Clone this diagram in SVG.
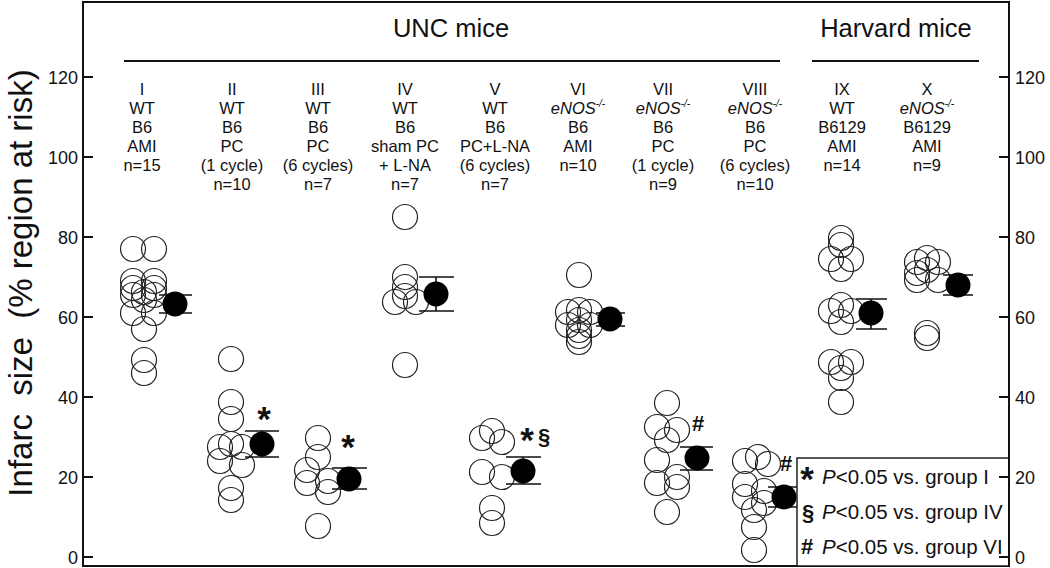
<svg xmlns="http://www.w3.org/2000/svg" width="1050" height="568" viewBox="0 0 1050 568">
<style>
text{font-family:"Liberation Sans",Arial,sans-serif;fill:#111}
.lbl{font-size:16.5px;text-anchor:middle}
.tk{font-size:18px}
.hd{font-size:25.5px;text-anchor:middle}
.ax{stroke:#111;stroke-width:2;fill:none}
.o{fill:none;stroke:#222;stroke-width:1.2}
.m{fill:#000}
.eb{stroke:#111;stroke-width:1.6;fill:none}
.ast{font-size:35px;font-weight:bold;text-anchor:middle}
.sym{font-size:22px;font-weight:bold;text-anchor:middle}
.lg{font-size:20.5px}
</style>
<rect width="1050" height="568" fill="#fff"/>
<g id="axes">
<rect class="ax" x="83" y="2" width="926" height="564"/>
<path class="ax" d="M83 77h10M83 157h10M83 237h10M83 317h10M83 397h10M83 477h10M83 557h10"/>
<g class="tk" text-anchor="end">
<text x="78" y="83.5">120</text><text x="78" y="163.5">100</text><text x="78" y="243.5">80</text><text x="78" y="323.5">60</text><text x="78" y="403.5">40</text><text x="78" y="483.5">20</text><text x="78" y="563.5">0</text>
</g>
<text transform="translate(32 283) rotate(-90)" font-size="33" text-anchor="middle" xml:space="preserve">Infarc  size  (% region at risk)</text>
</g>
<g id="headers">
<text class="hd" x="451" y="37">UNC mice</text>
<text class="hd" x="896" y="37">Harvard mice</text>
<path class="ax" stroke-width="1.8" d="M124 61H780M812 61H979"/>
</g>
<g id="labels">
<text class="lbl" x="142"><tspan x="142" y="95">I</tspan><tspan x="142" y="114">WT</tspan><tspan x="142" y="133">B6</tspan><tspan x="142" y="152">AMI</tspan><tspan x="142" y="171">n=15</tspan></text>
<text class="lbl" x="232"><tspan x="232" y="95">II</tspan><tspan x="232" y="114">WT</tspan><tspan x="232" y="133">B6</tspan><tspan x="232" y="152">PC</tspan><tspan x="232" y="171">(1 cycle)</tspan><tspan x="232" y="190">n=10</tspan></text>
<text class="lbl" x="318"><tspan x="318" y="95">III</tspan><tspan x="318" y="114">WT</tspan><tspan x="318" y="133">B6</tspan><tspan x="318" y="152">PC</tspan><tspan x="318" y="171">(6 cycles)</tspan><tspan x="318" y="190">n=7</tspan></text>
<text class="lbl" x="405"><tspan x="405" y="95">IV</tspan><tspan x="405" y="114">WT</tspan><tspan x="405" y="133">B6</tspan><tspan x="405" y="152">sham PC</tspan><tspan x="405" y="171">+ L-NA</tspan><tspan x="405" y="190">n=7</tspan></text>
<text class="lbl" x="495"><tspan x="495" y="95">V</tspan><tspan x="495" y="114">WT</tspan><tspan x="495" y="133">B6</tspan><tspan x="495" y="152">PC+L-NA</tspan><tspan x="495" y="171">(6 cycles)</tspan><tspan x="495" y="190">n=7</tspan></text>
<text class="lbl" x="578" y="95">VI</text>
<text class="lbl" x="578" y="114"><tspan font-style="italic">eNOS</tspan><tspan font-style="italic" font-size="10" dy="-7">-/-</tspan></text>
<text class="lbl" x="578"><tspan x="578" y="133">B6</tspan><tspan x="578" y="152">AMI</tspan><tspan x="578" y="171">n=10</tspan></text>
<text class="lbl" x="663" y="95">VII</text>
<text class="lbl" x="663" y="114"><tspan font-style="italic">eNOS</tspan><tspan font-style="italic" font-size="10" dy="-7">-/-</tspan></text>
<text class="lbl" x="663"><tspan x="663" y="133">B6</tspan><tspan x="663" y="152">PC</tspan><tspan x="663" y="171">(1 cycle)</tspan><tspan x="663" y="190">n=9</tspan></text>
<text class="lbl" x="755" y="95">VIII</text>
<text class="lbl" x="755" y="114"><tspan font-style="italic">eNOS</tspan><tspan font-style="italic" font-size="10" dy="-7">-/-</tspan></text>
<text class="lbl" x="755"><tspan x="755" y="133">B6</tspan><tspan x="755" y="152">PC</tspan><tspan x="755" y="171">(6 cycles)</tspan><tspan x="755" y="190">n=10</tspan></text>
<text class="lbl" x="842"><tspan x="842" y="95">IX</tspan><tspan x="842" y="114">WT</tspan><tspan x="842" y="133">B6129</tspan><tspan x="842" y="152">AMI</tspan><tspan x="842" y="171">n=14</tspan></text>
<text class="lbl" x="927" y="95">X</text>
<text class="lbl" x="927" y="114"><tspan font-style="italic">eNOS</tspan><tspan font-style="italic" font-size="10" dy="-7">-/-</tspan></text>
<text class="lbl" x="927"><tspan x="927" y="133">B6129</tspan><tspan x="927" y="152">AMI</tspan><tspan x="927" y="171">n=9</tspan></text>
</g>
<g id="group-I">
<circle class="o" cx="133" cy="249" r="12.5"/><circle class="o" cx="154" cy="249" r="12.5"/>
<circle class="o" cx="133" cy="281" r="12.5"/><circle class="o" cx="154" cy="281" r="12.5"/>
<circle class="o" cx="133" cy="288" r="12.5"/><circle class="o" cx="154" cy="288" r="12.5"/>
<circle class="o" cx="144" cy="292" r="12.5"/>
<circle class="o" cx="133" cy="295" r="12.5"/><circle class="o" cx="154" cy="295" r="12.5"/>
<circle class="o" cx="144" cy="300" r="12.5"/>
<circle class="o" cx="133" cy="313" r="12.5"/><circle class="o" cx="154" cy="313" r="12.5"/>
<circle class="o" cx="144" cy="329" r="12.5"/><circle class="o" cx="144" cy="360" r="12.5"/><circle class="o" cx="144" cy="373" r="12.5"/>
<path class="eb" d="M159 295H192M159 313H192M175 295V313"/>
<circle class="m" cx="175" cy="304" r="12.5"/>
</g>
<g id="group-II">
<circle class="o" cx="231" cy="359" r="12.5"/><circle class="o" cx="231" cy="402" r="12.5"/><circle class="o" cx="231" cy="419" r="12.5"/>
<circle class="o" cx="231" cy="444" r="12.5"/><circle class="o" cx="220" cy="447" r="12.5"/><circle class="o" cx="242" cy="447" r="12.5"/>
<circle class="o" cx="220" cy="461" r="12.5"/><circle class="o" cx="242" cy="465" r="12.5"/>
<circle class="o" cx="231" cy="488" r="12.5"/><circle class="o" cx="231" cy="500" r="12.5"/>
<path class="eb" d="M245 431H279M245 457H279M262 431V457"/>
<circle class="m" cx="262" cy="444" r="12.5"/>
<text class="ast" x="264" y="431">*</text>
</g>
<g id="group-III">
<circle class="o" cx="318" cy="438" r="12.5"/><circle class="o" cx="318" cy="457" r="12.5"/>
<circle class="o" cx="307" cy="470" r="12.5"/><circle class="o" cx="307" cy="483" r="12.5"/>
<circle class="o" cx="328" cy="481" r="12.5"/><circle class="o" cx="328" cy="492" r="12.5"/>
<circle class="o" cx="318" cy="526" r="12.5"/>
<path class="eb" d="M332 468H367M332 489H367M349 468V489"/>
<circle class="m" cx="349" cy="479" r="12.5"/>
<text class="ast" x="348" y="459">*</text>
</g>
<g id="group-IV">
<circle class="o" cx="405" cy="217" r="12.5"/><circle class="o" cx="405" cy="277" r="12.5"/><circle class="o" cx="405" cy="287" r="12.5"/>
<circle class="o" cx="405" cy="296" r="12.5"/><circle class="o" cx="395" cy="302" r="12.5"/><circle class="o" cx="416" cy="302" r="12.5"/>
<circle class="o" cx="405" cy="365" r="12.5"/>
<path class="eb" d="M419 277H454M419 311H454M436 277V311"/>
<circle class="m" cx="436" cy="294" r="12.5"/>
</g>
<g id="group-V">
<circle class="o" cx="482" cy="438" r="12.5"/><circle class="o" cx="492" cy="431" r="12.5"/><circle class="o" cx="502" cy="442" r="12.5"/>
<circle class="o" cx="482" cy="472" r="12.5"/><circle class="o" cx="502" cy="477" r="12.5"/>
<circle class="o" cx="492" cy="508" r="12.5"/><circle class="o" cx="492" cy="523" r="12.5"/>
<path class="eb" d="M506 457H541M506 484H541M523 457V484"/>
<circle class="m" cx="523" cy="471" r="12.5"/>
<text class="ast" x="527" y="452">*</text>
<text class="sym" x="544" y="444" font-size="25">§</text>
</g>
<g id="group-VI">
<circle class="o" cx="579" cy="275" r="12.5"/>
<circle class="o" cx="568" cy="312" r="12.5"/><circle class="o" cx="579" cy="310" r="12.5"/><circle class="o" cx="590" cy="312" r="12.5"/>
<circle class="o" cx="568" cy="325" r="12.5"/><circle class="o" cx="579" cy="320" r="12.5"/><circle class="o" cx="590" cy="325" r="12.5"/>
<circle class="o" cx="579" cy="330" r="12.5"/><circle class="o" cx="579" cy="336" r="12.5"/><circle class="o" cx="579" cy="342" r="12.5"/>
<path class="eb" d="M596 313H625M596 326H625M610 313V326"/>
<circle class="m" cx="610" cy="319" r="12.5"/>
</g>
<g id="group-VII">
<circle class="o" cx="667" cy="403" r="12.5"/><circle class="o" cx="657" cy="427" r="12.5"/><circle class="o" cx="677" cy="430" r="12.5"/>
<circle class="o" cx="667" cy="440" r="12.5"/><circle class="o" cx="657" cy="460" r="12.5"/><circle class="o" cx="677" cy="477" r="12.5"/>
<circle class="o" cx="657" cy="483" r="12.5"/><circle class="o" cx="677" cy="487" r="12.5"/><circle class="o" cx="667" cy="512" r="12.5"/>
<path class="eb" d="M680 447H713M680 470H713M697 447V470"/>
<circle class="m" cx="697" cy="458" r="12.5"/>
<text class="sym" x="698" y="431">#</text>
</g>
<g id="group-VIII">
<circle class="o" cx="745" cy="461" r="12.5"/><circle class="o" cx="758" cy="457" r="12.5"/><circle class="o" cx="768" cy="464" r="12.5"/>
<circle class="o" cx="745" cy="484" r="12.5"/><circle class="o" cx="745" cy="497" r="12.5"/>
<circle class="o" cx="764" cy="491" r="12.5"/><circle class="o" cx="764" cy="503" r="12.5"/>
<circle class="o" cx="754" cy="510" r="12.5"/><circle class="o" cx="754" cy="527" r="12.5"/><circle class="o" cx="754" cy="550" r="12.5"/>
<path class="eb" d="M768 487H799M768 507H799M784 487V507"/>
<circle class="m" cx="784" cy="497" r="12.5"/>
<text class="sym" x="786" y="471">#</text>
</g>
<g id="group-IX">
<circle class="o" cx="841" cy="238" r="12.5"/><circle class="o" cx="841" cy="245" r="12.5"/>
<circle class="o" cx="831" cy="259" r="12.5"/><circle class="o" cx="851" cy="259" r="12.5"/><circle class="o" cx="841" cy="269" r="12.5"/>
<circle class="o" cx="831" cy="311" r="12.5"/><circle class="o" cx="841" cy="305" r="12.5"/><circle class="o" cx="851" cy="311" r="12.5"/><circle class="o" cx="841" cy="322" r="12.5"/>
<circle class="o" cx="831" cy="362" r="12.5"/><circle class="o" cx="851" cy="362" r="12.5"/><circle class="o" cx="841" cy="368" r="12.5"/>
<circle class="o" cx="841" cy="378" r="12.5"/><circle class="o" cx="841" cy="402" r="12.5"/>
<path class="eb" d="M856 299H887M856 329H887M871 299V329"/>
<circle class="m" cx="871" cy="313" r="12.5"/>
</g>
<g id="group-X">
<circle class="o" cx="917" cy="262" r="12.5"/><circle class="o" cx="927" cy="258" r="12.5"/><circle class="o" cx="938" cy="262" r="12.5"/>
<circle class="o" cx="917" cy="273" r="12.5"/><circle class="o" cx="927" cy="270" r="12.5"/>
<circle class="o" cx="917" cy="280" r="12.5"/><circle class="o" cx="938" cy="280" r="12.5"/>
<circle class="o" cx="927" cy="333" r="12.5"/><circle class="o" cx="927" cy="338" r="12.5"/>
<path class="eb" d="M943 275H973M943 295H973M958 275V295"/>
<circle class="m" cx="958" cy="285" r="12.5"/>
</g>
<g id="legend">
<rect x="797" y="458" width="212" height="108" fill="#fff" stroke="#111" stroke-width="1.4"/>
<text class="ast" x="807" y="491" font-size="27">*</text>
<text class="lg" x="822" y="484"><tspan font-style="italic">P</tspan>&lt;0.05 vs. group I</text>
<text class="sym" x="808" y="520">§</text>
<text class="lg" x="822" y="519"><tspan font-style="italic">P</tspan>&lt;0.05 vs. group IV</text>
<text class="sym" x="807" y="554">#</text>
<text class="lg" x="822" y="554"><tspan font-style="italic">P</tspan>&lt;0.05 vs. group VI</text>
</g>
<g id="right-axis">
<path class="ax" d="M999 77h10M999 157h10M999 237h10M999 317h10M999 397h10M999 477h10M999 557h10M1009 2V566"/>
<g class="tk">
<text x="1015" y="83.5">120</text><text x="1015" y="163.5">100</text><text x="1015" y="243.5">80</text><text x="1015" y="323.5">60</text><text x="1015" y="403.5">40</text><text x="1015" y="483.5">20</text><text x="1015" y="563.5">0</text>
</g>
</g>
</svg>
